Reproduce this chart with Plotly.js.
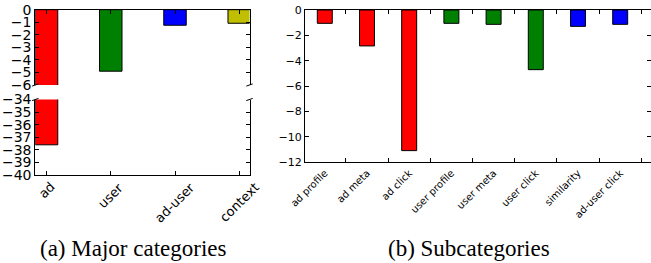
<!DOCTYPE html>
<html>
<head>
<meta charset="utf-8">
<script src="https://cdn.plot.ly/plotly-3.0.1.min.js"></script>
<style>html,body{margin:0;padding:0;background:#fff;}#chart{width:651px;height:263px;}</style>
</head>
<body>
<div id="chart"></div>
<script>
// ---- data ----
const majorCats = ['ad', 'user', 'ad-user', 'context'];
const majorVals = [-37.6, -4.9, -1.24, -1.08];
const subCats = ['ad profile', 'ad meta', 'ad click', 'user profile', 'user meta', 'user click', 'similarity', 'ad-user click'];
const subVals = [-1.05, -2.83, -11.08, -1.05, -1.13, -4.7, -1.29, -1.13];
const captionA = '(a) Major categories';
const captionB = '(b) Subcategories';

// ---- styles ----
const majorColors = ['#ff0000', '#008000', '#0000ff', '#bfbf00'];
const subColors = ['#ff0000', '#ff0000', '#ff0000', '#008000', '#008000', '#008000', '#0000ff', '#0000ff'];

const W = 651, H = 263;
const px = x => x / W;
const py = y => 1 - y / H;

const barLine = {color: '#000', width: 1};
const traces = [
  {type: 'bar', x: majorCats, y: majorVals, xaxis: 'x', yaxis: 'y', width: 0.35,
   marker: {color: majorColors, line: barLine}, hoverinfo: 'none'},
  {type: 'bar', x: majorCats, y: majorVals, xaxis: 'x2', yaxis: 'y2', width: 0.35,
   marker: {color: majorColors, line: barLine}, hoverinfo: 'none'},
  {type: 'bar', x: subCats, y: subVals, xaxis: 'x3', yaxis: 'y3', width: 0.355,
   marker: {color: subColors, line: barLine}, hoverinfo: 'none'}
];

const baseAxis = {
  showline: true, linecolor: '#000', linewidth: 1, showgrid: false, zeroline: false,
  ticks: 'inside', ticklen: 4, tickcolor: '#000', tickwidth: 1,
  tickfont: {family: 'DejaVu Sans', size: 14, color: '#000'}
};

const leftX = [px(35.3), px(249.5)];
const leftRange = [-0.175, 3.16];
const serif = 'Times New Roman, Times, Liberation Serif, DejaVu Serif, serif';

const annotations = majorCats.map(c => ({
  x: c, xref: 'x2', y: py(177), yref: 'paper', text: c, showarrow: false,
  textangle: -45, xanchor: 'center', yanchor: 'top',
  font: {family: 'DejaVu Sans', size: 13, color: '#000'}
}));
annotations.push({x: px(133.7), y: py(248.5), xref: 'paper', yref: 'paper', text: captionA,
  showarrow: false, xanchor: 'center', yanchor: 'middle',
  font: {family: serif, size: 23, color: '#000'}});
annotations.push({x: px(468.8), y: py(248.5), xref: 'paper', yref: 'paper', text: captionB,
  showarrow: false, xanchor: 'center', yanchor: 'middle',
  font: {family: serif, size: 23, color: '#000'}});

function brk(xc, yc) {
  return {type: 'line', xref: 'paper', yref: 'paper',
    x0: px(xc - 3.2), y0: py(yc + 1.1), x1: px(xc + 3.2), y1: py(yc - 1.1),
    line: {color: '#000', width: 1}};
}
const shapes = [brk(35.3, 85), brk(35.3, 99.5), brk(249.5, 85), brk(249.5, 99.5)];

const layout = {
  width: W, height: H, margin: {l: 0, r: 0, t: 0, b: 0},
  paper_bgcolor: '#fff', plot_bgcolor: 'rgba(0,0,0,0)', showlegend: false,
  font: {family: 'DejaVu Sans', color: '#000'},
  bargap: 0,
  xaxis: Object.assign({}, baseAxis, {domain: leftX, anchor: 'y', side: 'top', type: 'category',
    range: leftRange, showticklabels: false}),
  yaxis: Object.assign({}, baseAxis, {domain: [py(85), py(9.7)], anchor: 'x', range: [-6, 0],
    tickmode: 'linear', tick0: 0, dtick: 1, mirror: 'ticks'}),
  xaxis2: Object.assign({}, baseAxis, {domain: leftX, anchor: 'y2', side: 'bottom', type: 'category',
    range: leftRange, showticklabels: false}),
  yaxis2: Object.assign({}, baseAxis, {domain: [py(175), py(99.5)], anchor: 'x2', range: [-40, -34],
    tickmode: 'linear', tick0: 0, dtick: 1, mirror: 'ticks'}),
  xaxis3: Object.assign({}, baseAxis, {domain: [px(305), 1], anchor: 'y3', type: 'category',
    range: [-0.469, 7.73], mirror: 'ticks', tickson: 'boundaries', tickangle: -45,
    tickfont: {family: 'DejaVu Sans', size: 10, color: '#000'}}),
  yaxis3: Object.assign({}, baseAxis, {domain: [py(162.3), py(10)], anchor: 'x3', range: [-12, 0],
    tickmode: 'linear', tick0: 0, dtick: 2, mirror: 'ticks',
    tickfont: {family: 'DejaVu Sans', size: 11, color: '#000'}}),
  annotations: annotations,
  shapes: shapes
};

Plotly.newPlot('chart', traces, layout, {staticPlot: true, displayModeBar: false});
</script>
</body>
</html>
